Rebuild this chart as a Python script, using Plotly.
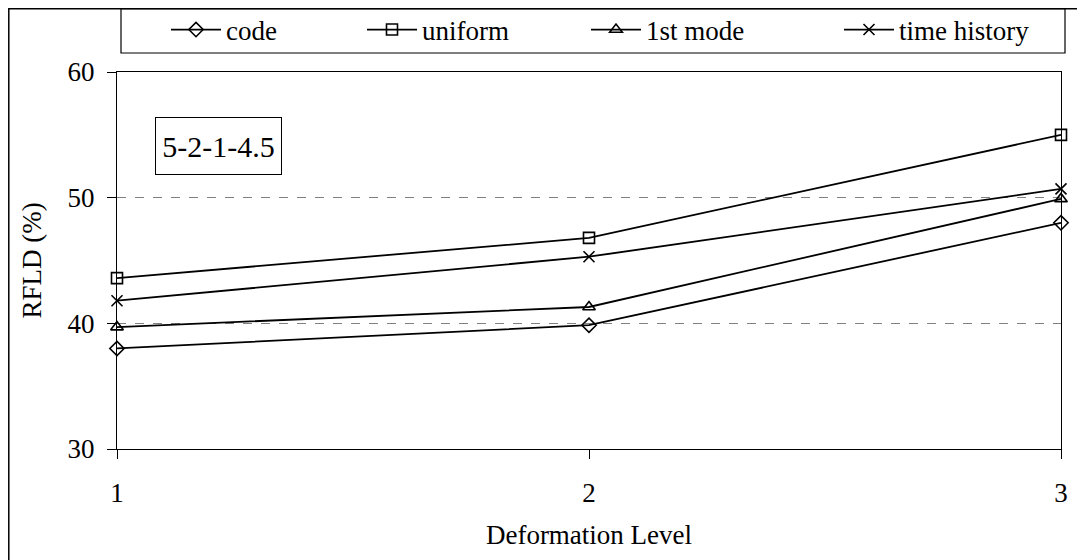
import plotly.graph_objects as go

levels = [1, 2, 3]
code = [38.0, 39.85, 48.0]
uniform = [43.6, 46.8, 55.0]
first_mode = [39.7, 41.3, 49.9]
time_history = [41.8, 45.3, 50.7]

series = [
    ("code", code, "diamond-open"),
    ("uniform", uniform, "square-open"),
    ("1st mode", first_mode, "triangle-up-open"),
    ("time history", time_history, "x-thin-open"),
]

FONT = "Liberation Serif"
W, H = 1085, 560
OFF = 8  # page body margin
L, R, T, B = 109, 32, 64, 119
pw, ph = W - L - R, H - T - B


def px(sx):
    return (sx - OFF - L) / pw


def py(sy):
    return (H - B - (sy - OFF)) / ph


legend_ids = ["legend", "legend2", "legend3", "legend4"]
legend_x = [166, 362, 586, 839]

fig = go.Figure()
for (name, vals, sym), lid in zip(series, legend_ids):
    fig.add_trace(go.Scatter(
        x=levels, y=vals, name=name, mode="lines+markers",
        line=dict(color="black", width=1.8),
        marker=dict(symbol=sym, size=11, color="black",
                    line=dict(color="black", width=1.6)),
        cliponaxis=False, legend=lid,
    ))

legend_common = dict(
    orientation="h", xanchor="left", yanchor="middle",
    borderwidth=0, bgcolor="rgba(0,0,0,0)",
    font=dict(family=FONT, size=27, color="black"),
    itemwidth=50,
)
legends = {}
for lid, lx in zip(legend_ids, legend_x):
    legends[lid] = dict(x=px(lx), y=py(30), **legend_common)

fig.update_layout(
    width=W, height=H,
    margin=dict(l=L, r=R, t=T, b=B, autoexpand=False),
    paper_bgcolor="white", plot_bgcolor="white",
    font=dict(family=FONT, size=27, color="black"),
    showlegend=True,
    xaxis=dict(
        range=[1, 3], tickvals=[1, 2, 3], ticktext=["1", "2", "3"],
        showline=True, linecolor="black", linewidth=1.2, mirror=True,
        ticks="outside", ticklen=9, tickcolor="black", tickwidth=1.2,
        ticklabelstandoff=10,
        showgrid=False, zeroline=False,
        title=dict(text="Deformation Level", standoff=18,
                   font=dict(family=FONT, size=27)),
        tickfont=dict(family=FONT, size=27),
    ),
    yaxis=dict(
        range=[30, 60], tickvals=[30, 40, 50, 60],
        showline=True, linecolor="black", linewidth=1.2, mirror=True,
        ticks="outside", ticklen=9, tickcolor="black", tickwidth=1.2,
        ticklabelstandoff=7,
        showgrid=True, gridcolor="#808080", gridwidth=1, griddash="dash",
        zeroline=False,
        title=dict(text="RFLD (%)", standoff=18,
                   font=dict(family=FONT, size=27)),
        tickfont=dict(family=FONT, size=27),
    ),
    **legends,
)

fig.add_annotation(
    xref="paper", yref="paper", x=px(218.5), y=py(146),
    xanchor="center", yanchor="middle",
    text="5-2-1-4.5", showarrow=False,
    font=dict(family=FONT, size=30, color="black"),
    bordercolor="black", borderwidth=1, borderpad=0,
    width=125, height=56, bgcolor="white",
)

# legend box
fig.add_shape(type="rect", xref="paper", yref="paper",
              x0=px(121), x1=px(1065), y0=py(53), y1=py(8.7),
              line=dict(color="black", width=1.2), layer="below")

# outer chart frame
fig.add_shape(type="rect", xref="paper", yref="paper",
              x0=px(8.8), x1=px(1080), y0=py(575), y1=py(8.8),
              line=dict(color="black", width=1.5), layer="below")

fig.write_html("out.html")
